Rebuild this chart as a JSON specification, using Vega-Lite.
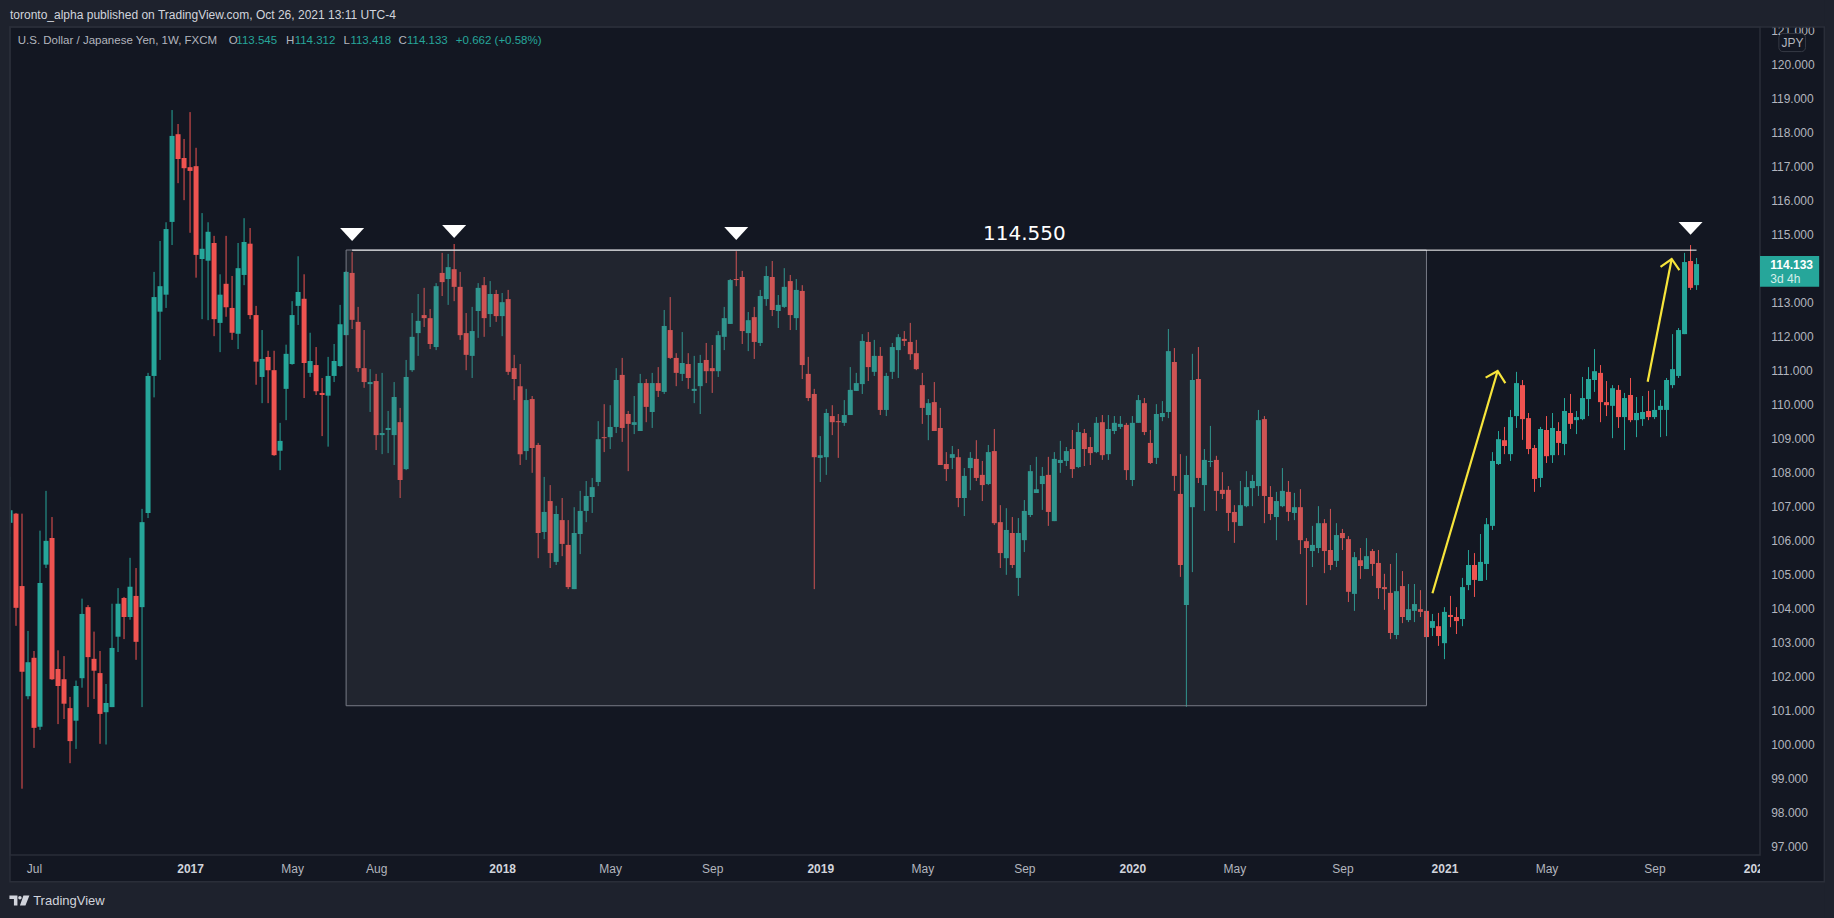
{
"$schema":"https://vega.github.io/schema/vega-lite/v6.json",
"width":1750,"height":828,
"autosize":{"type":"none"},
"padding":{"left":10,"top":27,"right":74,"bottom":63},
"background":"#131722",
"view":{"stroke":null,"fill":null},
"datasets":{
"candles":[
{"d":"2016-06-06","o":106.52,"h":107.87,"l":106.20,"c":106.89},
{"d":"2016-06-13","o":106.79,"h":106.81,"l":103.49,"c":104.02},
{"d":"2016-06-20","o":104.66,"h":106.79,"l":98.70,"c":102.14},
{"d":"2016-06-27","o":101.42,"h":103.34,"l":101.33,"c":102.42},
{"d":"2016-07-04","o":102.55,"h":102.75,"l":99.90,"c":100.49},
{"d":"2016-07-11","o":100.52,"h":106.29,"l":100.43,"c":104.75},
{"d":"2016-07-18","o":105.29,"h":107.46,"l":105.19,"c":105.99},
{"d":"2016-07-25","o":106.07,"h":106.69,"l":101.90,"c":101.92},
{"d":"2016-08-01","o":102.22,"h":102.77,"l":100.60,"c":101.72},
{"d":"2016-08-08","o":101.92,"h":102.60,"l":100.75,"c":101.20},
{"d":"2016-08-15","o":101.07,"h":101.40,"l":99.45,"c":100.10},
{"d":"2016-08-22","o":100.70,"h":101.88,"l":99.87,"c":101.72},
{"d":"2016-08-29","o":101.95,"h":104.29,"l":101.67,"c":103.84},
{"d":"2016-09-05","o":104.04,"h":104.10,"l":101.10,"c":102.57},
{"d":"2016-09-12","o":102.52,"h":103.32,"l":101.34,"c":102.17},
{"d":"2016-09-19","o":102.10,"h":102.75,"l":100.02,"c":100.90},
{"d":"2016-09-26","o":100.95,"h":101.78,"l":100.00,"c":101.22},
{"d":"2016-10-03","o":101.10,"h":104.14,"l":101.10,"c":102.84},
{"d":"2016-10-10","o":103.17,"h":104.60,"l":102.72,"c":104.14},
{"d":"2016-10-17","o":104.31,"h":104.34,"l":103.10,"c":103.75},
{"d":"2016-10-24","o":103.75,"h":105.49,"l":103.67,"c":104.64},
{"d":"2016-10-31","o":104.37,"h":105.19,"l":102.49,"c":103.02},
{"d":"2016-11-07","o":104.04,"h":106.93,"l":101.10,"c":106.54},
{"d":"2016-11-14","o":106.81,"h":110.93,"l":106.66,"c":110.84},
{"d":"2016-11-21","o":110.84,"h":113.90,"l":110.21,"c":113.16},
{"d":"2016-11-28","o":112.73,"h":114.81,"l":111.31,"c":113.48},
{"d":"2016-12-05","o":113.23,"h":115.36,"l":112.84,"c":115.16},
{"d":"2016-12-12","o":115.37,"h":118.66,"l":114.69,"c":117.90},
{"d":"2016-12-19","o":117.95,"h":118.25,"l":116.51,"c":117.22},
{"d":"2016-12-26","o":117.25,"h":117.81,"l":116.01,"c":116.95},
{"d":"2017-01-02","o":116.98,"h":118.60,"l":115.05,"c":116.87},
{"d":"2017-01-09","o":117.01,"h":117.55,"l":113.73,"c":114.40},
{"d":"2017-01-16","o":114.28,"h":115.63,"l":112.51,"c":114.58},
{"d":"2017-01-23","o":114.23,"h":115.36,"l":112.48,"c":115.08},
{"d":"2017-01-30","o":114.75,"h":114.96,"l":112.01,"c":112.51},
{"d":"2017-02-06","o":112.40,"h":113.83,"l":111.54,"c":113.23},
{"d":"2017-02-13","o":113.55,"h":114.96,"l":112.58,"c":112.86},
{"d":"2017-02-20","o":112.84,"h":113.78,"l":111.90,"c":112.11},
{"d":"2017-02-27","o":112.08,"h":114.75,"l":111.63,"c":114.01},
{"d":"2017-03-06","o":113.81,"h":115.48,"l":113.51,"c":114.78},
{"d":"2017-03-13","o":114.73,"h":115.19,"l":112.51,"c":112.63},
{"d":"2017-03-20","o":112.63,"h":112.90,"l":110.58,"c":111.26},
{"d":"2017-03-27","o":110.81,"h":112.19,"l":110.04,"c":111.34},
{"d":"2017-04-03","o":111.40,"h":111.58,"l":110.04,"c":111.01},
{"d":"2017-04-10","o":111.01,"h":111.58,"l":108.49,"c":108.51},
{"d":"2017-04-17","o":108.64,"h":109.46,"l":108.07,"c":108.93},
{"d":"2017-04-24","o":110.46,"h":111.76,"l":109.54,"c":111.49},
{"d":"2017-05-01","o":111.19,"h":113.04,"l":111.17,"c":112.63},
{"d":"2017-05-08","o":112.90,"h":114.36,"l":112.34,"c":113.31},
{"d":"2017-05-15","o":113.11,"h":113.83,"l":110.19,"c":111.22},
{"d":"2017-05-22","o":110.93,"h":112.11,"l":110.81,"c":111.28},
{"d":"2017-05-29","o":111.16,"h":111.69,"l":110.28,"c":110.39},
{"d":"2017-06-05","o":110.34,"h":110.78,"l":109.07,"c":110.28},
{"d":"2017-06-12","o":110.26,"h":111.40,"l":108.76,"c":110.84},
{"d":"2017-06-19","o":110.84,"h":111.78,"l":110.66,"c":111.28},
{"d":"2017-06-26","o":111.13,"h":112.93,"l":111.11,"c":112.36},
{"d":"2017-07-03","o":112.04,"h":113.92,"l":112.04,"c":113.90},
{"d":"2017-07-10","o":113.87,"h":114.48,"l":112.22,"c":112.49},
{"d":"2017-07-17","o":112.43,"h":112.87,"l":110.96,"c":111.07},
{"d":"2017-07-24","o":111.07,"h":112.19,"l":110.49,"c":110.66},
{"d":"2017-07-31","o":110.60,"h":111.04,"l":109.78,"c":110.66},
{"d":"2017-08-07","o":110.69,"h":110.90,"l":108.66,"c":109.10},
{"d":"2017-08-14","o":109.10,"h":110.93,"l":108.54,"c":109.16},
{"d":"2017-08-21","o":109.25,"h":109.81,"l":108.57,"c":109.31},
{"d":"2017-08-28","o":109.10,"h":110.66,"l":108.22,"c":110.22},
{"d":"2017-09-04","o":109.48,"h":109.90,"l":107.25,"c":107.78},
{"d":"2017-09-11","o":108.10,"h":111.31,"l":108.07,"c":110.81},
{"d":"2017-09-18","o":111.01,"h":112.69,"l":110.96,"c":111.99},
{"d":"2017-09-25","o":112.10,"h":113.25,"l":111.43,"c":112.46},
{"d":"2017-10-02","o":112.63,"h":113.43,"l":112.28,"c":112.54},
{"d":"2017-10-09","o":112.54,"h":112.81,"l":111.63,"c":111.78},
{"d":"2017-10-16","o":111.69,"h":113.57,"l":111.60,"c":113.48},
{"d":"2017-10-23","o":113.87,"h":114.46,"l":113.19,"c":113.60},
{"d":"2017-10-30","o":113.69,"h":114.43,"l":112.93,"c":114.04},
{"d":"2017-11-06","o":113.98,"h":114.72,"l":113.04,"c":113.46},
{"d":"2017-11-13","o":113.46,"h":113.90,"l":111.90,"c":112.04},
{"d":"2017-11-20","o":112.10,"h":112.69,"l":111.01,"c":111.46},
{"d":"2017-11-27","o":111.43,"h":112.87,"l":110.78,"c":112.16},
{"d":"2017-12-04","o":112.75,"h":113.57,"l":111.96,"c":113.43},
{"d":"2017-12-11","o":113.51,"h":113.75,"l":111.99,"c":112.54},
{"d":"2017-12-18","o":112.66,"h":113.63,"l":112.28,"c":113.25},
{"d":"2017-12-25","o":113.25,"h":113.37,"l":112.43,"c":112.60},
{"d":"2018-01-01","o":112.60,"h":113.28,"l":112.01,"c":113.01},
{"d":"2018-01-08","o":113.10,"h":113.37,"l":110.87,"c":110.96},
{"d":"2018-01-15","o":111.07,"h":111.46,"l":110.13,"c":110.75},
{"d":"2018-01-22","o":110.54,"h":111.19,"l":108.22,"c":108.54},
{"d":"2018-01-29","o":108.63,"h":110.46,"l":108.37,"c":110.13},
{"d":"2018-02-05","o":110.16,"h":110.25,"l":107.99,"c":108.72},
{"d":"2018-02-12","o":108.81,"h":108.87,"l":105.48,"c":106.22},
{"d":"2018-02-19","o":106.25,"h":107.87,"l":106.04,"c":106.84},
{"d":"2018-02-26","o":107.16,"h":107.63,"l":105.19,"c":105.63},
{"d":"2018-03-05","o":105.37,"h":107.02,"l":105.28,"c":106.78},
{"d":"2018-03-12","o":106.60,"h":107.25,"l":105.54,"c":105.90},
{"d":"2018-03-19","o":105.87,"h":106.60,"l":104.57,"c":104.63},
{"d":"2018-03-26","o":104.57,"h":106.98,"l":104.57,"c":106.22},
{"d":"2018-04-02","o":106.19,"h":107.46,"l":105.60,"c":106.87},
{"d":"2018-04-09","o":106.87,"h":107.75,"l":106.54,"c":107.31},
{"d":"2018-04-16","o":107.28,"h":107.84,"l":106.81,"c":107.57},
{"d":"2018-04-23","o":107.72,"h":109.51,"l":107.60,"c":108.98},
{"d":"2018-04-30","o":109.04,"h":110.01,"l":108.60,"c":109.01},
{"d":"2018-05-07","o":109.04,"h":109.98,"l":108.69,"c":109.34},
{"d":"2018-05-14","o":109.34,"h":111.07,"l":109.16,"c":110.72},
{"d":"2018-05-21","o":110.87,"h":111.37,"l":108.90,"c":109.31},
{"d":"2018-05-28","o":109.72,"h":109.81,"l":108.04,"c":109.43},
{"d":"2018-06-04","o":109.40,"h":110.25,"l":109.13,"c":109.48},
{"d":"2018-06-11","o":109.22,"h":110.90,"l":109.22,"c":110.63},
{"d":"2018-06-18","o":110.63,"h":110.75,"l":109.48,"c":109.93},
{"d":"2018-06-25","o":109.78,"h":110.93,"l":109.31,"c":110.63},
{"d":"2018-07-02","o":110.63,"h":111.10,"l":110.22,"c":110.40},
{"d":"2018-07-09","o":110.37,"h":112.78,"l":110.31,"c":112.31},
{"d":"2018-07-16","o":112.19,"h":113.16,"l":111.34,"c":111.37},
{"d":"2018-07-23","o":111.37,"h":111.51,"l":110.54,"c":110.93},
{"d":"2018-07-30","o":110.90,"h":112.13,"l":110.69,"c":111.22},
{"d":"2018-08-06","o":111.19,"h":111.51,"l":110.46,"c":110.78},
{"d":"2018-08-13","o":110.40,"h":111.43,"l":110.04,"c":110.46},
{"d":"2018-08-20","o":110.54,"h":111.46,"l":109.72,"c":111.22},
{"d":"2018-08-27","o":111.31,"h":111.81,"l":110.63,"c":110.98},
{"d":"2018-09-03","o":111.07,"h":111.75,"l":110.34,"c":110.98},
{"d":"2018-09-10","o":110.98,"h":112.16,"l":110.81,"c":112.04},
{"d":"2018-09-17","o":111.99,"h":112.87,"l":111.60,"c":112.54},
{"d":"2018-09-24","o":112.37,"h":113.69,"l":112.37,"c":113.66},
{"d":"2018-10-01","o":113.69,"h":114.51,"l":113.48,"c":113.66},
{"d":"2018-10-08","o":113.75,"h":113.93,"l":111.78,"c":112.16},
{"d":"2018-10-15","o":112.10,"h":112.72,"l":111.57,"c":112.48},
{"d":"2018-10-22","o":112.57,"h":112.87,"l":111.34,"c":111.84},
{"d":"2018-10-29","o":111.81,"h":113.37,"l":111.72,"c":113.19},
{"d":"2018-11-05","o":113.10,"h":114.07,"l":112.90,"c":113.78},
{"d":"2018-11-12","o":113.75,"h":114.22,"l":112.60,"c":112.78},
{"d":"2018-11-19","o":112.75,"h":113.22,"l":112.25,"c":112.93},
{"d":"2018-11-26","o":112.87,"h":114.01,"l":112.84,"c":113.46},
{"d":"2018-12-03","o":113.63,"h":113.81,"l":112.19,"c":112.63},
{"d":"2018-12-10","o":112.54,"h":113.69,"l":112.19,"c":113.37},
{"d":"2018-12-17","o":113.34,"h":113.51,"l":110.75,"c":111.16},
{"d":"2018-12-24","o":110.90,"h":111.40,"l":110.10,"c":110.19},
{"d":"2018-12-31","o":110.31,"h":110.46,"l":104.57,"c":108.45},
{"d":"2019-01-07","o":108.43,"h":109.07,"l":107.72,"c":108.51},
{"d":"2019-01-14","o":108.45,"h":109.87,"l":107.93,"c":109.75},
{"d":"2019-01-21","o":109.66,"h":109.98,"l":109.10,"c":109.48},
{"d":"2019-01-28","o":109.51,"h":109.72,"l":108.43,"c":109.48},
{"d":"2019-02-04","o":109.46,"h":110.13,"l":109.37,"c":109.69},
{"d":"2019-02-11","o":109.69,"h":111.10,"l":109.69,"c":110.43},
{"d":"2019-02-18","o":110.40,"h":110.93,"l":110.40,"c":110.63},
{"d":"2019-02-25","o":110.60,"h":112.07,"l":110.31,"c":111.87},
{"d":"2019-03-04","o":111.84,"h":112.13,"l":110.69,"c":111.10},
{"d":"2019-03-11","o":110.96,"h":111.90,"l":110.84,"c":111.43},
{"d":"2019-03-18","o":111.43,"h":111.69,"l":109.69,"c":109.84},
{"d":"2019-03-25","o":109.84,"h":110.93,"l":109.66,"c":110.84},
{"d":"2019-04-01","o":110.96,"h":111.81,"l":110.75,"c":111.69},
{"d":"2019-04-08","o":111.60,"h":112.07,"l":110.78,"c":111.98},
{"d":"2019-04-15","o":111.93,"h":112.16,"l":111.72,"c":111.87},
{"d":"2019-04-22","o":111.84,"h":112.40,"l":111.31,"c":111.48},
{"d":"2019-04-29","o":111.51,"h":111.90,"l":111.01,"c":111.04},
{"d":"2019-05-06","o":110.57,"h":110.93,"l":109.43,"c":109.90},
{"d":"2019-05-13","o":109.69,"h":110.16,"l":108.95,"c":110.04},
{"d":"2019-05-20","o":110.07,"h":110.66,"l":109.22,"c":109.22},
{"d":"2019-05-27","o":109.31,"h":109.90,"l":108.22,"c":108.22},
{"d":"2019-06-03","o":108.25,"h":108.60,"l":107.75,"c":108.10},
{"d":"2019-06-10","o":108.43,"h":108.78,"l":108.10,"c":108.54},
{"d":"2019-06-17","o":108.45,"h":108.69,"l":106.98,"c":107.25},
{"d":"2019-06-24","o":107.25,"h":108.13,"l":106.72,"c":107.90},
{"d":"2019-07-01","o":108.13,"h":108.60,"l":107.48,"c":108.43},
{"d":"2019-07-08","o":108.40,"h":108.95,"l":107.75,"c":107.84},
{"d":"2019-07-15","o":107.93,"h":108.34,"l":107.16,"c":107.63},
{"d":"2019-07-22","o":107.66,"h":108.81,"l":107.63,"c":108.60},
{"d":"2019-07-29","o":108.63,"h":109.28,"l":106.46,"c":106.51},
{"d":"2019-08-05","o":106.54,"h":107.04,"l":105.19,"c":105.63},
{"d":"2019-08-12","o":105.48,"h":106.95,"l":104.99,"c":106.31},
{"d":"2019-08-19","o":106.22,"h":106.69,"l":105.19,"c":105.28},
{"d":"2019-08-26","o":104.90,"h":106.66,"l":104.37,"c":106.22},
{"d":"2019-09-02","o":106.01,"h":107.19,"l":105.66,"c":106.87},
{"d":"2019-09-09","o":106.75,"h":108.22,"l":106.69,"c":108.04},
{"d":"2019-09-16","o":107.40,"h":108.46,"l":107.40,"c":107.51},
{"d":"2019-09-23","o":107.66,"h":108.16,"l":106.90,"c":107.90},
{"d":"2019-09-30","o":107.93,"h":108.46,"l":106.43,"c":106.84},
{"d":"2019-10-07","o":106.57,"h":108.60,"l":106.57,"c":108.40},
{"d":"2019-10-14","o":108.28,"h":108.93,"l":107.99,"c":108.37},
{"d":"2019-10-21","o":108.34,"h":108.75,"l":108.19,"c":108.63},
{"d":"2019-10-28","o":108.69,"h":109.25,"l":107.84,"c":108.10},
{"d":"2019-11-04","o":108.16,"h":109.46,"l":108.13,"c":109.19},
{"d":"2019-11-11","o":109.16,"h":109.28,"l":108.19,"c":108.69},
{"d":"2019-11-18","o":108.75,"h":109.04,"l":108.22,"c":108.57},
{"d":"2019-11-25","o":108.60,"h":109.63,"l":108.57,"c":109.46},
{"d":"2019-12-02","o":109.48,"h":109.69,"l":108.37,"c":108.51},
{"d":"2019-12-09","o":108.54,"h":109.69,"l":108.37,"c":109.28},
{"d":"2019-12-16","o":109.22,"h":109.66,"l":109.13,"c":109.46},
{"d":"2019-12-23","o":109.34,"h":109.66,"l":109.28,"c":109.43},
{"d":"2019-12-30","o":109.40,"h":109.46,"l":107.78,"c":108.07},
{"d":"2020-01-06","o":107.78,"h":109.66,"l":107.60,"c":109.46},
{"d":"2020-01-13","o":109.46,"h":110.28,"l":109.46,"c":110.13},
{"d":"2020-01-20","o":110.04,"h":110.19,"l":109.10,"c":109.19},
{"d":"2020-01-27","o":108.87,"h":109.25,"l":108.25,"c":108.28},
{"d":"2020-02-03","o":108.43,"h":110.01,"l":108.25,"c":109.72},
{"d":"2020-02-10","o":109.63,"h":110.10,"l":109.51,"c":109.75},
{"d":"2020-02-17","o":109.78,"h":112.22,"l":109.60,"c":111.57},
{"d":"2020-02-24","o":111.25,"h":111.66,"l":107.46,"c":107.90},
{"d":"2020-03-02","o":107.37,"h":108.54,"l":104.93,"c":105.28},
{"d":"2020-03-09","o":104.10,"h":108.49,"l":101.11,"c":107.93},
{"d":"2020-03-16","o":106.98,"h":111.49,"l":105.07,"c":110.72},
{"d":"2020-03-23","o":110.75,"h":111.69,"l":107.69,"c":107.84},
{"d":"2020-03-30","o":107.63,"h":108.69,"l":106.87,"c":108.37},
{"d":"2020-04-06","o":108.31,"h":109.37,"l":108.16,"c":108.34},
{"d":"2020-04-13","o":108.37,"h":108.49,"l":106.87,"c":107.46},
{"d":"2020-04-20","o":107.49,"h":108.01,"l":107.22,"c":107.37},
{"d":"2020-04-27","o":107.49,"h":107.60,"l":106.28,"c":106.81},
{"d":"2020-05-04","o":106.84,"h":107.04,"l":105.93,"c":106.54},
{"d":"2020-05-11","o":106.43,"h":107.75,"l":106.43,"c":107.04},
{"d":"2020-05-18","o":107.01,"h":108.04,"l":106.98,"c":107.57},
{"d":"2020-05-25","o":107.54,"h":107.93,"l":107.01,"c":107.75},
{"d":"2020-06-01","o":107.60,"h":109.84,"l":107.31,"c":109.54},
{"d":"2020-06-08","o":109.57,"h":109.66,"l":106.51,"c":107.31},
{"d":"2020-06-15","o":107.28,"h":107.60,"l":106.60,"c":106.78},
{"d":"2020-06-22","o":106.69,"h":107.43,"l":106.01,"c":107.16},
{"d":"2020-06-29","o":107.01,"h":108.13,"l":106.98,"c":107.46},
{"d":"2020-07-06","o":107.43,"h":107.75,"l":106.57,"c":106.84},
{"d":"2020-07-13","o":106.81,"h":107.40,"l":106.60,"c":106.98},
{"d":"2020-07-20","o":106.98,"h":107.51,"l":105.60,"c":106.01},
{"d":"2020-07-27","o":105.98,"h":106.07,"l":104.10,"c":105.78},
{"d":"2020-08-03","o":105.69,"h":106.43,"l":105.22,"c":105.87},
{"d":"2020-08-10","o":105.78,"h":107.01,"l":105.63,"c":106.51},
{"d":"2020-08-17","o":106.51,"h":106.63,"l":105.04,"c":105.69},
{"d":"2020-08-24","o":105.72,"h":106.93,"l":105.13,"c":105.28},
{"d":"2020-08-31","o":105.40,"h":106.51,"l":105.22,"c":106.16},
{"d":"2020-09-07","o":106.22,"h":106.34,"l":105.72,"c":106.07},
{"d":"2020-09-14","o":106.04,"h":106.13,"l":104.19,"c":104.49},
{"d":"2020-09-21","o":104.43,"h":105.66,"l":103.93,"c":105.51},
{"d":"2020-09-28","o":105.42,"h":105.78,"l":104.87,"c":105.25},
{"d":"2020-10-05","o":105.16,"h":106.07,"l":105.16,"c":105.54},
{"d":"2020-10-12","o":105.69,"h":105.75,"l":104.96,"c":105.31},
{"d":"2020-10-19","o":105.34,"h":105.72,"l":104.28,"c":104.60},
{"d":"2020-10-26","o":104.63,"h":105.02,"l":103.96,"c":104.57},
{"d":"2020-11-02","o":104.46,"h":105.31,"l":103.10,"c":103.28},
{"d":"2020-11-09","o":103.22,"h":105.63,"l":103.10,"c":104.51},
{"d":"2020-11-16","o":104.66,"h":105.10,"l":103.57,"c":103.75},
{"d":"2020-11-23","o":103.66,"h":104.72,"l":103.60,"c":103.98},
{"d":"2020-11-30","o":103.93,"h":104.72,"l":103.60,"c":104.13},
{"d":"2020-12-07","o":103.98,"h":104.54,"l":103.75,"c":103.90},
{"d":"2020-12-14","o":103.93,"h":103.93,"l":103.16,"c":103.16},
{"d":"2020-12-21","o":103.43,"h":103.84,"l":103.19,"c":103.63},
{"d":"2020-12-28","o":103.48,"h":103.87,"l":102.90,"c":103.19},
{"d":"2021-01-04","o":102.98,"h":104.04,"l":102.51,"c":103.90},
{"d":"2021-01-11","o":103.81,"h":104.37,"l":103.45,"c":103.75},
{"d":"2021-01-18","o":103.75,"h":104.04,"l":103.25,"c":103.63},
{"d":"2021-01-25","o":103.69,"h":104.90,"l":103.48,"c":104.63},
{"d":"2021-02-01","o":104.69,"h":105.72,"l":104.54,"c":105.28},
{"d":"2021-02-08","o":105.28,"h":105.63,"l":104.34,"c":104.84},
{"d":"2021-02-15","o":104.81,"h":106.19,"l":104.81,"c":105.37},
{"d":"2021-02-22","o":105.31,"h":106.66,"l":104.84,"c":106.48},
{"d":"2021-03-01","o":106.43,"h":108.60,"l":106.31,"c":108.34},
{"d":"2021-03-08","o":108.25,"h":109.22,"l":108.22,"c":108.98},
{"d":"2021-03-15","o":108.95,"h":109.34,"l":108.54,"c":108.78},
{"d":"2021-03-22","o":108.54,"h":109.84,"l":108.34,"c":109.63},
{"d":"2021-03-29","o":109.66,"h":110.96,"l":109.31,"c":110.63},
{"d":"2021-04-05","o":110.57,"h":110.72,"l":108.96,"c":109.57},
{"d":"2021-04-12","o":109.60,"h":109.75,"l":108.54,"c":108.69},
{"d":"2021-04-19","o":108.72,"h":108.81,"l":107.43,"c":107.81},
{"d":"2021-04-26","o":107.84,"h":109.34,"l":107.57,"c":109.28},
{"d":"2021-05-03","o":109.25,"h":109.66,"l":108.28,"c":108.48},
{"d":"2021-05-10","o":108.51,"h":109.75,"l":108.28,"c":109.31},
{"d":"2021-05-17","o":109.22,"h":109.48,"l":108.51,"c":108.87},
{"d":"2021-05-24","o":108.84,"h":110.19,"l":108.51,"c":109.81},
{"d":"2021-05-31","o":109.75,"h":110.31,"l":109.28,"c":109.43},
{"d":"2021-06-07","o":109.54,"h":109.81,"l":109.13,"c":109.63},
{"d":"2021-06-14","o":109.57,"h":110.81,"l":109.54,"c":110.19},
{"d":"2021-06-21","o":110.16,"h":111.10,"l":109.66,"c":110.75},
{"d":"2021-06-28","o":110.72,"h":111.63,"l":110.37,"c":110.98},
{"d":"2021-07-05","o":110.93,"h":111.16,"l":109.48,"c":110.07},
{"d":"2021-07-12","o":110.07,"h":110.69,"l":109.66,"c":109.98},
{"d":"2021-07-19","o":109.96,"h":110.57,"l":109.01,"c":110.48},
{"d":"2021-07-26","o":110.43,"h":110.57,"l":109.31,"c":109.63},
{"d":"2021-08-02","o":109.63,"h":110.34,"l":108.66,"c":110.19},
{"d":"2021-08-09","o":110.28,"h":110.78,"l":109.48,"c":109.54},
{"d":"2021-08-16","o":109.54,"h":110.22,"l":109.04,"c":109.75},
{"d":"2021-08-23","o":109.57,"h":110.25,"l":109.37,"c":109.78},
{"d":"2021-08-30","o":109.81,"h":110.40,"l":109.54,"c":109.63},
{"d":"2021-09-06","o":109.63,"h":110.43,"l":109.57,"c":109.84},
{"d":"2021-09-13","o":109.84,"h":110.13,"l":109.04,"c":109.96},
{"d":"2021-09-20","o":109.84,"h":110.78,"l":109.07,"c":110.72},
{"d":"2021-09-27","o":110.57,"h":112.07,"l":110.48,"c":111.04},
{"d":"2021-10-04","o":110.84,"h":112.25,"l":110.78,"c":112.19},
{"d":"2021-10-11","o":112.07,"h":114.46,"l":112.07,"c":114.19},
{"d":"2021-10-18","o":114.22,"h":114.69,"l":113.37,"c":113.43},
{"d":"2021-10-25","o":113.51,"h":114.31,"l":113.37,"c":114.13}
],
"arrows":[
{"g":"a","n":1,"d":"2020-12-21","p":104.447},
{"g":"a","n":2,"d":"2021-03-07","p":110.985},
{"g":"b","n":1,"d":"2021-02-21","p":110.79},
{"g":"b","n":2,"d":"2021-03-07","p":110.985},
{"g":"b","n":3,"d":"2021-03-16","p":110.63},
{"g":"c","n":1,"d":"2021-08-29","p":110.67},
{"g":"c","n":2,"d":"2021-09-26","p":114.28},
{"g":"e","n":1,"d":"2021-09-13","p":114.05},
{"g":"e","n":2,"d":"2021-09-26","p":114.28},
{"g":"e","n":3,"d":"2021-10-05","p":113.95}
],
"strips":[
{"d":"2016-05-25","d2":"2022-04-04","p":121.103,"p2":121.9},
{"d":"2016-05-25","d2":"2022-04-04","p":94.9,"p2":95.96},
{"d":"2016-05-25","d2":"2016-06-06","p":94.9,"p2":121.9},
{"d":"2022-03-23","d2":"2022-04-04","p":94.9,"p2":121.9}
],
"frames":[
{"d":"2016-06-06","d2":"2022-03-23","p":95.96,"p2":121.103},
{"d":"2016-06-06","d2":"2022-01-07","p":96.75,"p2":121.103}
],
"legendRow":[
{"d":"2016-06-15","p":120.68,"t":"U.S. Dollar / Japanese Yen, 1W, FXCM","k":"label"},
{"d":"2017-02-16","p":120.68,"t":"O","k":"label"},
{"d":"2017-02-25","p":120.68,"t":"113.545","k":"value"},
{"d":"2017-04-24","p":120.68,"t":"H","k":"label"},
{"d":"2017-05-04","p":120.68,"t":"114.312","k":"value"},
{"d":"2017-06-30","p":120.68,"t":"L","k":"label"},
{"d":"2017-07-08","p":120.68,"t":"113.418","k":"value"},
{"d":"2017-09-02","p":120.68,"t":"C","k":"label"},
{"d":"2017-09-12","p":120.68,"t":"114.133","k":"value"},
{"d":"2017-11-08","p":120.68,"t":"+0.662 (+0.58%)","k":"value"}
]
},
"encoding":{
"x":{"field":"d","type":"temporal","title":null,
"scale":{"type":"utc","domain":["2016-06-06","2022-01-07"],"nice":false,"padding":0},
"axis":{"values":["2016-07-04","2017-01-02","2017-05-01","2017-08-07","2018-01-01","2018-05-07","2018-09-03","2019-01-07","2019-05-06","2019-09-02","2020-01-06","2020-05-04","2020-09-07","2021-01-04","2021-05-03","2021-09-06","2022-01-03"],
"labelExpr":"utcmonth(datum.value)==0 ? utcFormat(datum.value,'%Y') : utcFormat(datum.value,'%b')",
"grid":false,"domain":false,"ticks":false,"tickSize":0,"labelPadding":8,"labelOverlap":false,"labelFlush":false,"labelFont":"Liberation Sans","labelFontSize":12,
"labelColor":{"condition":{"test":"utcmonth(datum.value)==0","value":"#d1d4dc"},"value":"#b2b5be"},
"labelFontWeight":{"condition":{"test":"utcmonth(datum.value)==0","value":"bold"},"value":"normal"},
"title":null}},
"y":{"field":"p","type":"quantitative","title":null,
"scale":{"domain":[96.75,121.103],"nice":false,"zero":false},
"axis":{"orient":"right","values":[97,98,99,100,101,102,103,104,105,106,107,108,109,110,111,112,113,115,116,117,118,119,120,121],"format":".3f","grid":false,"domain":false,"ticks":false,"tickSize":0,"labelPadding":10.7,"labelOverlap":false,"labelFlush":false,"labelFont":"Liberation Sans","labelFontSize":12,"labelColor":"#b2b5be","title":null}}
},
"layer":[
{"data":{"name":"candles"},"mark":{"type":"rule","strokeWidth":1,"clip":true},
"encoding":{"y":{"field":"l","type":"quantitative","scale":{"domain":[96.75,121.103],"nice":false,"zero":false}},"y2":{"field":"h"},
"color":{"condition":{"test":"datum.c>=datum.o","value":"#26a69a"},"value":"#ef5350"}}},
{"data":{"name":"candles"},"mark":{"type":"bar","size":5,"clip":true},
"encoding":{"y":{"field":"o","type":"quantitative","scale":{"domain":[96.75,121.103],"nice":false,"zero":false}},"y2":{"field":"c"},
"color":{"condition":{"test":"datum.c>=datum.o","value":"#26a69a"},"value":"#ef5350"}}},
{"data":{"values":[{"d":"2017-07-03","d2":"2020-12-14","p":114.544,"p2":101.14}]},"mark":{"type":"rect","fill":"#5a5a62","fillOpacity":0.21,"stroke":"#787b86","strokeWidth":1},
"encoding":{"x2":{"field":"d2"},"y2":{"field":"p2"}}},
{"data":{"values":[{"d":"2017-07-10","d2":"2021-10-25","p":114.54}]},"mark":{"type":"rule","color":"#ffffff","strokeWidth":1},
"encoding":{"x2":{"field":"d2"}}},
{"data":{"name":"arrows"},"mark":{"type":"line","color":"#f7e53b","strokeWidth":2.2,"strokeJoin":"miter"},
"encoding":{"detail":{"field":"g"},"order":{"field":"n","type":"quantitative"}}},
{"data":{"values":[{"d":"2017-07-10","p":115.0},{"d":"2017-11-06","p":115.09},{"d":"2018-10-01","p":115.03},{"d":"2021-10-18","p":115.18}]},"mark":{"type":"point","shape":"M-1,-0.54 L1,-0.54 L0,0.54 Z","size":576,"filled":true,"fill":"#ffffff","opacity":1,"strokeWidth":0}},
{"data":{"values":[{"d":"2019-09-02","p":115.01,"t":"114.550"}]},"mark":{"type":"text","font":"DejaVu Sans","fontSize":20,"color":"#ffffff","align":"center","baseline":"middle"},
"encoding":{"text":{"field":"t"}}},
{"data":{"name":"strips"},"mark":{"type":"rect","fill":"#1e222d"},
"encoding":{"x2":{"field":"d2"},"y2":{"field":"p2"}}},
{"data":{"values":[{"d":"2022-01-07","d2":"2022-03-23","p":96.75,"p2":95.96}]},"mark":{"type":"rect","fill":"#131722"},
"encoding":{"x2":{"field":"d2"},"y2":{"field":"p2"}}},
{"data":{"name":"frames"},"mark":{"type":"rect","fill":"transparent","stroke":"#2a2e39","strokeWidth":1.5},
"encoding":{"x2":{"field":"d2"},"y2":{"field":"p2"}}},
{"data":{"values":[{"d":"2022-01-07","d2":"2022-03-17","p":114.368,"p2":113.465}]},"mark":{"type":"rect","fill":"#26a69a"},
"encoding":{"x2":{"field":"d2"},"y2":{"field":"p2"}}},
{"data":{"values":[{"d":"2022-01-19","p":114.11,"t":"114.133"}]},"mark":{"type":"text","font":"Liberation Sans","fontSize":12,"fontWeight":"bold","color":"#ffffff","align":"left","baseline":"middle"},
"encoding":{"text":{"field":"t"}}},
{"data":{"values":[{"d":"2022-01-19","p":113.70,"t":"3d 4h"}]},"mark":{"type":"text","font":"Liberation Sans","fontSize":12,"color":"#d4eeea","align":"left","baseline":"middle"},
"encoding":{"text":{"field":"t"}}},
{"data":{"values":[{"d":"2022-01-29","d2":"2022-03-01","p":120.91,"p2":120.38}]},"mark":{"type":"rect","fill":"#131722","stroke":"#363a45","strokeWidth":1,"cornerRadius":4},
"encoding":{"x2":{"field":"d2"},"y2":{"field":"p2"}}},
{"data":{"values":[{"d":"2022-02-14","p":120.64,"t":"JPY"}]},"mark":{"type":"text","font":"Liberation Sans","fontSize":12,"color":"#b2b5be","align":"center","baseline":"middle"},
"encoding":{"text":{"field":"t"}}},
{"data":{"name":"legendRow"},"mark":{"type":"text","font":"Liberation Sans","fontSize":11.5,"align":"left","baseline":"middle"},
"encoding":{"text":{"field":"t"},"color":{"condition":{"test":"datum.k=='value'","value":"#26a69a"},"value":"#b2b5be"}}},
{"data":{"values":[{"d":"2016-06-06","p":121.456,"t":"toronto_alpha published on TradingView.com, Oct 26, 2021 13:11 UTC-4"}]},"mark":{"type":"text","font":"Liberation Sans","fontSize":12,"color":"#d1d4dc","align":"left","baseline":"middle"},
"encoding":{"text":{"field":"t"}}},
{"data":{"values":[{"d":"2016-07-03","p":95.40,"t":"TradingView"}]},"mark":{"type":"text","font":"Liberation Sans","fontSize":13,"color":"#d1d4dc","align":"left","baseline":"middle"},
"encoding":{"text":{"field":"t"}}},
{"data":{"values":[{"d":"2016-06-17","p":95.41}]},"mark":{"type":"point","shape":"M-1,-0.5 H-0.2 V0.5 H-0.55 V-0.15 H-1 Z M-0.12,-0.28 a0.17,0.17 0 1,0 0.34,0 a0.17,0.17 0 1,0 -0.34,0 Z M0.4,-0.5 H1 L0.6,0.5 H0.05 Z","size":400,"filled":true,"fill":"#d1d4dc","opacity":1,"strokeWidth":0}}
]
}
